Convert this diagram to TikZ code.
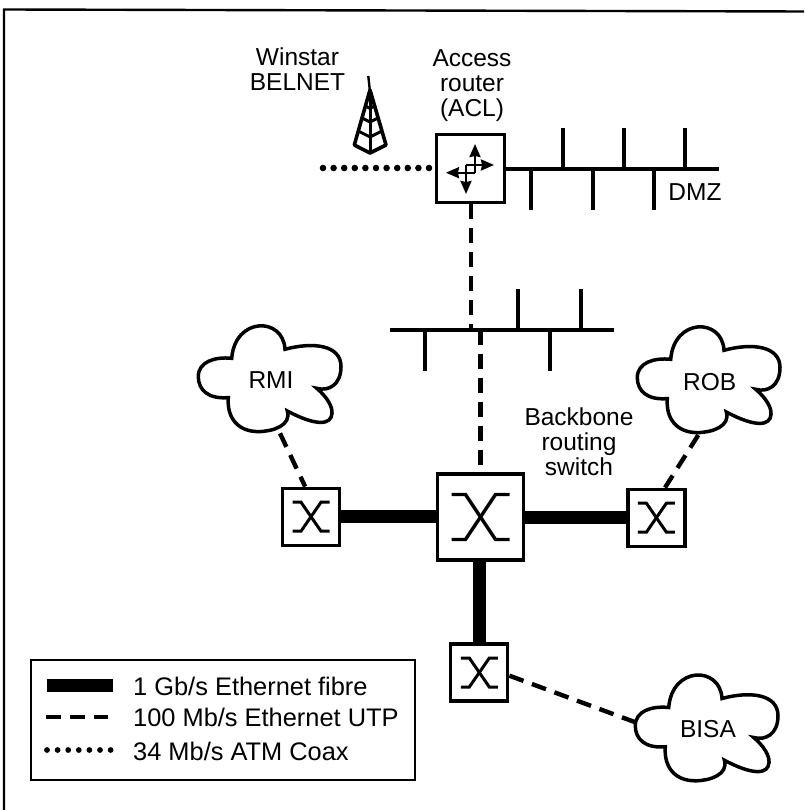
\documentclass[tikz,border=0pt]{standalone}
\usepackage{fontspec}
\setmainfont{Liberation Sans}
\usepackage{tikz}
\usetikzlibrary{arrows.meta,positioning,calc}
\tikzset{
  >={Stealth[length=13pt,width=11pt,inset=1pt]},
  lab/.style={font=\fontsize{24.5}{25}\selectfont,align=center,inner sep=0pt},
  keylab/.style={font=\fontsize{25.4}{26}\selectfont,anchor=base west,inner sep=0pt},
  sw/.style={draw,line width=3.2pt,fill=white,minimum size=57pt,inner sep=0pt},
  bigsw/.style={sw,minimum size=86pt},
  bus/.style={line width=4pt},
  gig/.style={line width=13pt},
  fast/.style={line width=4.4pt,dash pattern=on 15pt off 9pt},
  coax/.style={line width=6.6pt,line cap=round,dash pattern=on 0pt off 10.6pt},
  frameline/.style={line width=2.4pt},
  pics/xsw/.style={code={
    \draw[line width=3pt] (-18.5,-14.5) -- (-10,-14.5) -- (10,14.5) -- (18.5,14.5);
    \draw[line width=3pt] (-18.5,14.5) -- (-10,14.5) -- (10,-14.5) -- (18.5,-14.5);
  }},
  pics/xswbig/.style={code={
    \draw[line width=3.4pt] (-29,-22.5) -- (-15,-22.5) -- (15,22.5) -- (29,22.5);
    \draw[line width=3.4pt] (-29,22.5) -- (-15,22.5) -- (15,-22.5) -- (29,-22.5);
  }},
  pics/cloud/.style={code={
    \draw[line width=3.5pt,line join=miter] (-38.3,-20)
      .. controls (-35,-61.7) and (13.3,-61.7) .. (15,-29)
      .. controls (43.3,-36.7) and (71,-33.3) .. (71,-11.7)
      .. controls (71,6.7) and (58.3,13.3) .. (46.7,10)
      .. controls (56.7,18.3) and (62.7,28.3) .. (62,35)
      .. controls (61.3,46.7) and (46.7,48.3) .. (17.3,32.7)
      .. controls (21.7,46.7) and (3.3,53.3) .. (-11.7,53.3)
      .. controls (-31.7,53.3) and (-43.3,40) .. (-41.7,19.3)
      .. controls (-61.7,21) and (-71.7,11.7) .. (-71.7,-1.7)
      .. controls (-71.7,-16.7) and (-55,-21.7) .. (-38.3,-20) -- cycle;
    \coordinate (-sa) at (10,55);
    \coordinate (-sb) at (-10.7,55.7);
    \coordinate (-w) at (-71,-5);
  }},
}
\begin{document}
\begin{tikzpicture}[x=1pt,y=-1pt]
\useasboundingbox (0,0) rectangle (804,810);
\fill[white] (0,0) rectangle (804,810);
\draw[frameline] (4,810) -- (4,9.5) -- (804,11.5);

% access router and DMZ
\node[sw,minimum size=68pt] (acl) at (470.8,168.3) {};
\draw[->,line width=2.3pt] (475,172.7) -- (475,144);
\draw[->,line width=2.3pt] (466,165) -- (494,165);
\draw[->,line width=2.3pt] (475,172.7) -- (446,172.7);
\draw[->,line width=2.3pt] (466,165) -- (466,194);
\node[lab] (acltxt) at (472,86) {Access\\router\\(ACL)};
\coordinate (dmzend) at (719,169);
\draw[bus] (acl.east |- dmzend) -- (dmzend);
\foreach \x in {563,624,685} \draw[bus] (\x,169) -- (\x,128);
\foreach \x in {531,593,654} \draw[bus] (\x,169) -- (\x,210);
\node[lab,anchor=base] (dmz) at (695,201) {DMZ};

% radio tower
\draw[line width=2.4pt] (368.3,76) -- (370,92);
\draw[line width=3.6pt,line join=round] (354.3,145) -- (370,90) -- (386,145) -- (370,153) -- cycle;
\draw[line width=3pt] (370,90) -- (370,153);
\foreach \yy/\dx in {106/4.7,118/8.1,131/11.9} \draw[line width=3pt] (370-\dx,\yy) -- (370,\yy+\dx*.5) -- (370+\dx,\yy);
\node[lab] (win) at (297.5,69.5) {Winstar\\BELNET};
\coordinate (coaxend) at (323,168);
\draw[coax] (coaxend) -- (acl.west |- coaxend);

% inner LAN
\coordinate (lana) at (390,330);
\coordinate (lanb) at (614,330);
\draw[bus] (lana) -- (lanb);
\foreach \x in {518,581} \draw[bus] (\x,330) -- (\x,289);
\foreach \x in {425,550} \draw[bus] (\x,330) -- (\x,371);
\draw[fast] (acl.south) -- (acl.south |- lana);

% switches
\node[bigsw] (main) at (480.5,517) {};
\node[sw] (swrmi) at (311,516.7) {};
\node[sw] (swrob) at (656.4,517.7) {};
\node[sw] (swbisa) at (479.3,672.5) {};
\pic at (main) {xswbig};
\foreach \n in {swrmi,swrob,swbisa} \pic at (\n) {xsw};
\draw[fast] (main.north |- lana) -- (main.north);
\draw[gig] (swrmi.east) -- (swrmi.east -| main.west);
\draw[gig] (main.east) -- (main.east -| swrob.west);
\draw[gig] (swbisa.north |- main.south) -- (swbisa.north);
\node[lab] (bbone) at (579,442) {Backbone\\routing\\switch};

% clouds
\pic (cr) at (270,378.3) {cloud};
\pic (co) at (709,379.3) {cloud};
\pic (cb) at (707,727.5) {cloud};
\node[lab] (rmi) at (271,380) {RMI};
\node[lab] (rob) at (709.7,381.7) {ROB};
\node[lab] (bisa) at (708,729) {BISA};
\draw[fast] (cr-sa) -- (swrmi.101);
\draw[fast] (co-sb) -- (swrob.74);
\draw[fast] (swbisa.-6) -- (cb-w);

% legend
\node[draw,line width=2.6pt,minimum width=384pt,minimum height=120pt,inner sep=0pt] (legend) at (223,720) {};
\coordinate (ka) at (46.7,685); \coordinate (kb) at (113,685);
\coordinate (kc) at (46,717); \coordinate (kd) at (108,717);
\coordinate (ke) at (47,750); \coordinate (kf) at (112,750);
\draw[gig] (ka) -- (kb);
\draw[fast] (kc) -- (kd);
\draw[coax,line width=5.8pt] (ke) -- (kf);
\node[keylab] (ta) at (133,695) {1 Gb/s Ethernet fibre};
\node[keylab] (tb) at (133,726) {100 Mb/s Ethernet UTP};
\node[keylab] (tc) at (133,760) {34 Mb/s ATM Coax};
\end{tikzpicture}
\end{document}
